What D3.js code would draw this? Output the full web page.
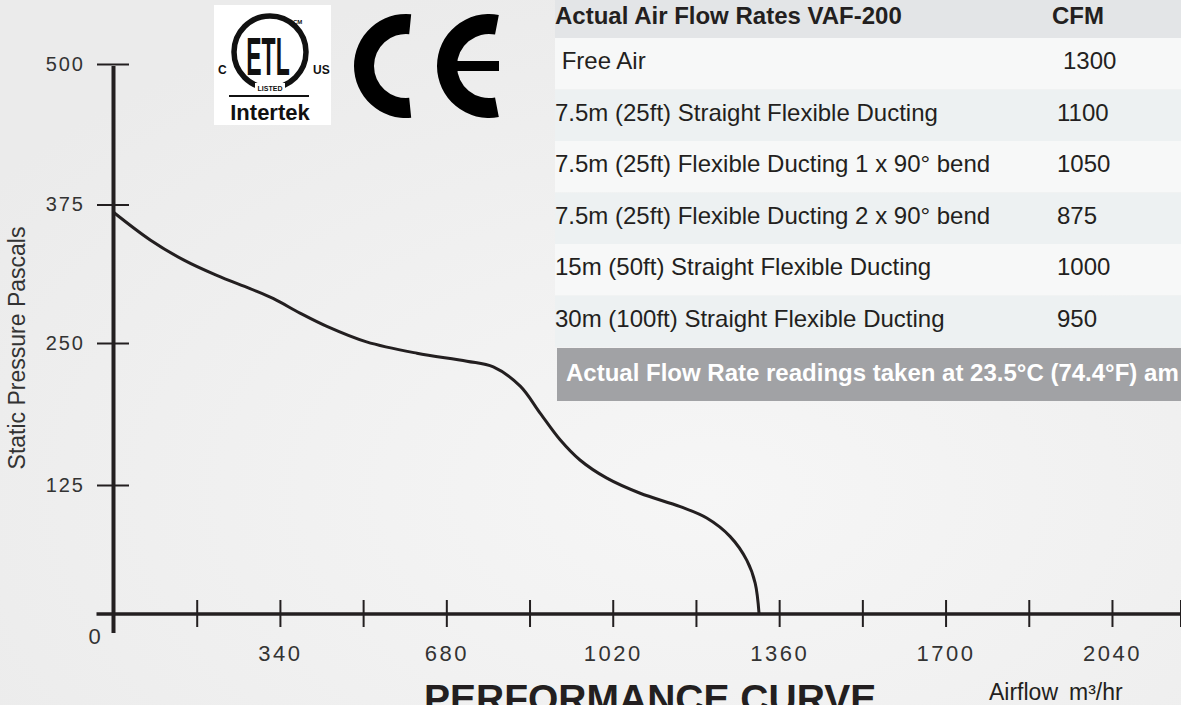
<!DOCTYPE html>
<html>
<head>
<meta charset="utf-8">
<script src="https://cdn.jsdelivr.net/npm/d3@7"></script>
<style>
  body { margin: 0; background: #f0f0f0; }
  svg { display: block; font-family: "Liberation Sans", Arial, sans-serif; }
</style>
</head>
<body>
<div id="chart"></div>
<script>
// performance curve, values
var airflow  = [0, 75, 143, 211, 279, 327, 381, 436, 517, 620, 722, 776, 831, 872, 912, 953, 1008, 1076, 1158, 1212, 1260, 1294, 1311, 1319];
var pressure = [368, 343, 325, 311, 299, 290, 277, 265, 251, 241, 234, 229, 212, 188, 165, 147, 131, 117, 104, 93, 75, 52, 30, 0];

var xTicks  = [170, 340, 510, 680, 850, 1020, 1190, 1360, 1530, 1700, 1870, 2040];
var xLabels = [340, 680, 1020, 1360, 1700, 2040];
var yTicks  = [125, 250, 375, 500];

// flow rate table
var tableTitle = "Actual Air Flow Rates VAF-200";
var tableUnit  = "CFM";
var ductings = [
  " Free Air",
  "7.5m (25ft) Straight Flexible Ducting",
  "7.5m (25ft) Flexible Ducting 1 x 90° bend",
  "7.5m (25ft) Flexible Ducting 2 x 90° bend",
  "15m (50ft) Straight Flexible Ducting",
  "30m (100ft) Straight Flexible Ducting"
];
var cfm = [1300, 1100, 1050, 875, 1000, 950];
var tableNote = "Actual Flow Rate readings taken at 23.5°C (74.4°F) am";

var width = 1181, height = 705;
var ink = "#231f20";

var svg = d3.select("#chart")
  .append("svg")
  .attr("width", width)
  .attr("height", height);

// background
var grad = svg.append("defs").append("radialGradient")
  .attr("id", "bg").attr("cx", "60%").attr("cy", "70%").attr("r", "75%");
grad.append("stop").attr("offset", "0%").attr("stop-color", "#f6f6f6");
grad.append("stop").attr("offset", "100%").attr("stop-color", "#ebebeb");
svg.append("rect").attr("width", width).attr("height", height).attr("fill", "url(#bg)");

// scales (the printed y ticks are not evenly spaced, so the scale is piecewise)
var x = d3.scaleLinear().domain([0, 2180]).range([113.5, 1180.5]);
var y = d3.scaleLinear().domain([0, 125, 250, 375, 500]).range([614, 485, 343, 204.5, 64]);

// y axis
var yAxis = svg.append("g")
  .attr("transform", "translate(129,0)")
  .call(d3.axisLeft(y).tickValues(yTicks).tickSize(32).tickPadding(12));
yAxis.select(".domain").remove();
yAxis.selectAll("line").attr("stroke", ink).attr("stroke-width", 2);
yAxis.selectAll("text")
  .attr("fill", "#333")
  .style("font-size", "20px")
  .style("letter-spacing", "2px")
  .style("font-family", "Liberation Sans, Arial, sans-serif");

svg.append("line")
  .attr("x1", x(0)).attr("x2", x(0))
  .attr("y1", y(500) + 2).attr("y2", y(0) + 19)
  .attr("stroke", ink).attr("stroke-width", 4);

// x axis
var xAxis = svg.append("g")
  .attr("transform", "translate(0,600)")
  .call(d3.axisBottom(x)
    .tickValues(xTicks.concat([x.domain()[1]]))
    .tickSize(27)
    .tickPadding(18)
    .tickFormat(function(d) { return xLabels.indexOf(d) >= 0 ? d : ""; }));
xAxis.select(".domain").remove();
xAxis.selectAll("line").attr("stroke", ink).attr("stroke-width", 2);
xAxis.selectAll("text")
  .attr("fill", "#333")
  .style("font-size", "22px")
  .style("letter-spacing", "2.5px")
  .style("font-family", "Liberation Sans, Arial, sans-serif");

svg.append("line")
  .attr("x1", x(0) - 17).attr("x2", width)
  .attr("y1", y(0)).attr("y2", y(0))
  .attr("stroke", ink).attr("stroke-width", 3.5);

svg.append("text")
  .attr("x", x(0) - 19).attr("y", y(0) + 30)
  .attr("text-anchor", "middle")
  .attr("fill", "#333")
  .style("font-size", "22px")
  .text("0");

// curve
var line = d3.line()
  .x(function(d, i) { return x(airflow[i]); })
  .y(function(d) { return y(d); })
  .curve(d3.curveCatmullRom.alpha(0.5));

svg.append("path")
  .datum(pressure)
  .attr("d", line)
  .attr("fill", "none")
  .attr("stroke", ink)
  .attr("stroke-width", 3);

// axis titles
svg.append("text")
  .attr("transform", "translate(25,348) rotate(-90)")
  .attr("text-anchor", "middle")
  .attr("fill", "#333")
  .style("font-size", "23px")
  .text("Static Pressure Pascals");

svg.append("text")
  .attr("x", 424).attr("y", 712)
  .attr("fill", ink)
  .style("font-size", "39px")
  .style("font-weight", "bold")
  .text("PERFORMANCE CURVE");

var unitText = svg.append("text")
  .attr("x", 989).attr("y", 700)
  .attr("fill", ink)
  .style("font-size", "23px");
unitText.append("tspan").text("Airflow");
unitText.append("tspan").attr("dx", 11).text("m³/hr");

// table
var table = svg.append("g");
var tableX = 555;
var rowY = d3.scaleBand().domain(d3.range(ductings.length)).range([38, 347]);

table.append("rect")
  .attr("x", tableX).attr("y", 0)
  .attr("width", width - tableX).attr("height", 38)
  .attr("fill", "#e3e5e7");

table.selectAll("rect.row")
  .data(ductings)
  .enter()
  .append("rect")
  .attr("class", "row")
  .attr("x", tableX)
  .attr("y", function(d, i) { return rowY(i); })
  .attr("width", width - tableX)
  .attr("height", rowY.bandwidth())
  .attr("fill", function(d, i) { return i % 2 ? "#edf1f2" : "#f7f8f8"; });

table.append("text")
  .attr("x", tableX).attr("y", 24)
  .attr("fill", ink)
  .style("font-size", "24px").style("font-weight", "bold")
  .text(tableTitle);
table.append("text")
  .attr("x", 1052).attr("y", 24)
  .attr("fill", ink)
  .style("font-size", "24px").style("font-weight", "bold")
  .text(tableUnit);

table.selectAll("text.label")
  .data(ductings)
  .enter()
  .append("text")
  .attr("class", "label")
  .attr("x", tableX)
  .attr("y", function(d, i) { return rowY(i) + 31; })
  .attr("fill", ink)
  .style("font-size", "24px")
  .style("white-space", "pre")
  .text(function(d) { return d; });

table.selectAll("text.value")
  .data(cfm)
  .enter()
  .append("text")
  .attr("class", "value")
  .attr("x", function(d, i) { return i === 0 ? 1063 : 1057; })
  .attr("y", function(d, i) { return rowY(i) + 31; })
  .attr("fill", ink)
  .style("font-size", "24px")
  .text(function(d) { return d; });

table.append("rect")
  .attr("x", 557).attr("y", 348)
  .attr("width", width - 557).attr("height", 53)
  .attr("fill", "#a1a2a5");
table.append("text")
  .attr("x", 566).attr("y", 381)
  .attr("fill", "#fff")
  .style("font-size", "24px").style("font-weight", "bold")
  .text(tableNote);

// ETL listed mark
var etl = svg.append("g");
etl.append("rect").attr("x", 214).attr("y", 5).attr("width", 117).attr("height", 120).attr("fill", "#fff");
etl.append("circle").attr("cx", 270).attr("cy", 52).attr("r", 36)
  .attr("fill", "none").attr("stroke", "#111").attr("stroke-width", 5.5);
etl.append("text")
  .attr("transform", "translate(268,75) scale(1,2.3)")
  .attr("text-anchor", "middle")
  .attr("fill", "#111")
  .style("font-size", "23px").style("font-weight", "bold")
  .text("ETL");
etl.append("text").attr("x", 293).attr("y", 24).attr("fill", "#111")
  .style("font-size", "6px").style("font-weight", "bold").text("CM");
etl.append("text").attr("x", 218).attr("y", 74).attr("fill", "#111")
  .style("font-size", "12px").style("font-weight", "bold").text("C");
etl.append("text").attr("x", 313).attr("y", 74).attr("fill", "#111")
  .style("font-size", "12px").style("font-weight", "bold").text("US");
etl.append("rect").attr("x", 255).attr("y", 83).attr("width", 30).attr("height", 9).attr("fill", "#fff");
etl.append("text").attr("x", 270).attr("y", 91).attr("text-anchor", "middle").attr("fill", "#111")
  .style("font-size", "7px").style("font-weight", "bold").text("LISTED");
etl.append("line").attr("x1", 229).attr("x2", 309).attr("y1", 96).attr("y2", 96)
  .attr("stroke", "#111").attr("stroke-width", 2);
etl.append("text").attr("x", 270).attr("y", 120).attr("text-anchor", "middle").attr("fill", "#111")
  .style("font-size", "22px").style("font-weight", "bold").text("Intertek");

// CE mark
var ceArc = d3.arc().innerRadius(32).outerRadius(52);
var ce = svg.append("g").attr("fill", "#000");
ce.append("path")
  .attr("transform", "translate(406,66)")
  .attr("d", ceArc({startAngle: Math.PI - 0.1, endAngle: 2 * Math.PI + 0.1}));
ce.append("path")
  .attr("transform", "translate(489,66)")
  .attr("d", ceArc({startAngle: Math.PI - 0.19, endAngle: 2 * Math.PI + 0.19}));
ce.append("rect").attr("x", 455).attr("y", 61).attr("width", 44).attr("height", 10);
</script>
</body>
</html>
